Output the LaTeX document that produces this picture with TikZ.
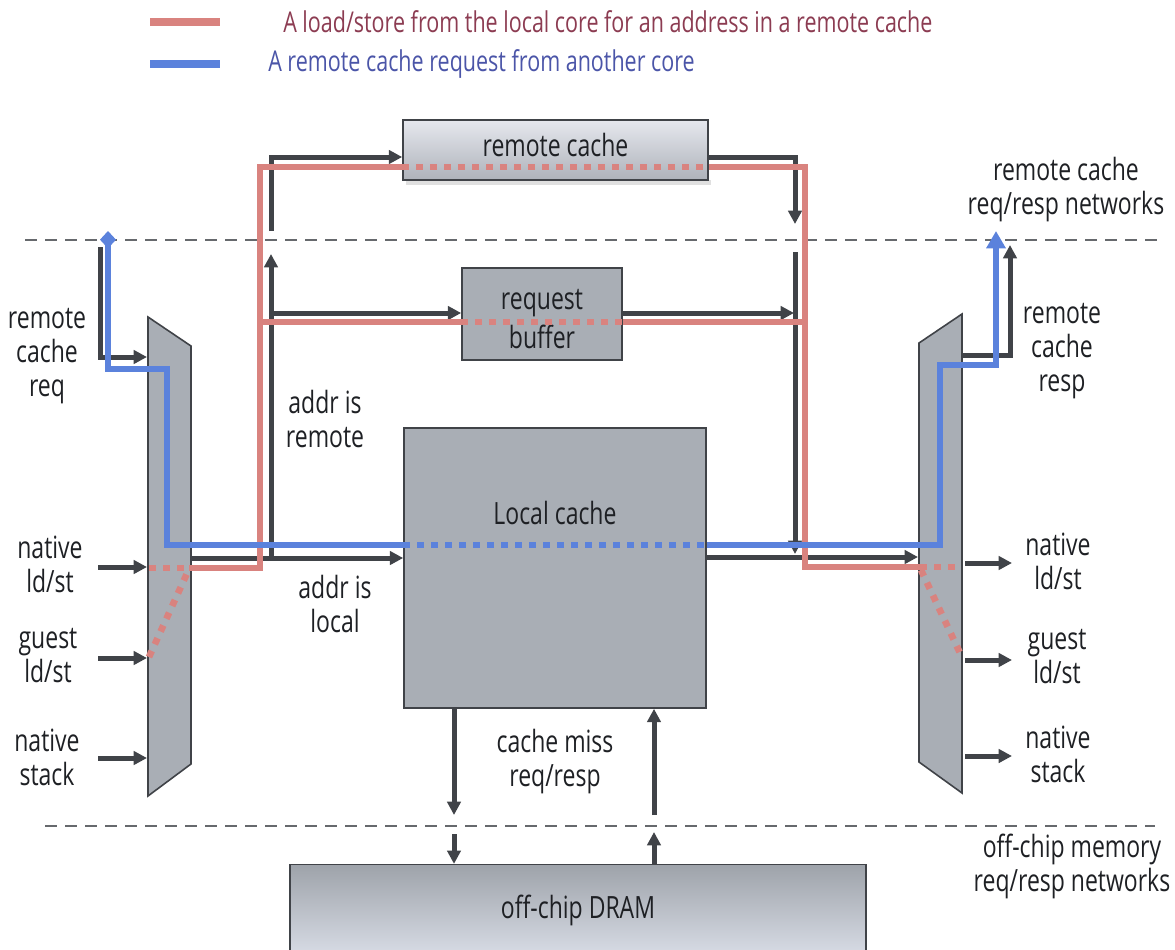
\documentclass[tikz,border=0pt]{standalone}
\usepackage{fontspec}
\setmainfont{Open Sans}[FakeStretch=0.75]
\usetikzlibrary{arrows.meta,shadings}
\definecolor{dk}{HTML}{404348}
\definecolor{boxc}{HTML}{A9AEB5}
\definecolor{redc}{HTML}{D9837F}
\definecolor{bluec}{HTML}{5B82DC}
\definecolor{legred}{HTML}{8C3C52}
\definecolor{legblue}{HTML}{4B55A8}
\definecolor{txt}{HTML}{1E2024}
\definecolor{rctop}{HTML}{E6E8EE}
\definecolor{rcbot}{HTML}{AEB2BA}
\definecolor{drtop}{HTML}{9EA3AA}
\definecolor{drbot}{HTML}{E2E6F0}
\begin{document}
\begin{tikzpicture}[x=0.75pt,y=-0.75pt,
  lbl/.style={font=\fontsize{23}{25.5}\selectfont, text=txt, align=center, inner sep=0pt},
  legtxt/.style={font=\fontsize{21.5}{24}\selectfont, inner sep=0pt, anchor=west},
  box/.style={draw=dk, line width=1.2pt, fill=boxc, inner sep=0pt},
  dkl/.style={draw=dk, line width=3.75pt},
  dka/.style={dkl, -{Triangle[length=10pt,width=10pt]}},
  redp/.style={draw=redc, line width=5pt},
  redd/.style={redp, dash pattern=on 5pt off 5.5pt},
  bluep/.style={draw=bluec, line width=5pt},
  blued/.style={bluep, dash pattern=on 5pt off 5.5pt},
  netdash/.style={draw=dk!80, line width=1.1pt, dash pattern=on 9pt off 6pt}
]
\useasboundingbox (0,0) rectangle (1175,950);

% legend
\draw[redp, line width=6pt] (150,22) coordinate (lr1) -- (220,22) coordinate (lr2);
\node[legtxt, text=legred] (legr) at (283,22) {A load/store from the local core for an address in a remote cache};
\draw[bluep, line width=6pt] (150,64) coordinate (lb1) -- (220,64) coordinate (lb2);
\node[legtxt, text=legblue] (legb) at (268,64) {A remote cache request from another core};

% network boundaries
\draw[netdash] (25,240) coordinate (n1a) -- (1160,240) coordinate (n1b);
\draw[netdash] (45,826) coordinate (n2a) -- (1155,826) coordinate (n2b);

% boxes
\fill[black!12] (406,180) rectangle (711,185);
\node[box, minimum width=228.75pt, minimum height=45pt, top color=rctop, bottom color=rcbot, draw=dk] (rc) at (555.5,150) {};
\node[lbl] (rct) at (555.5,145) {remote cache};
\node[box, minimum width=120pt, minimum height=69pt] (rb) at (542,314) {};
\node[lbl] (rbt) at (542,319) {request\\[4pt]buffer};
\node[box, minimum width=226.5pt, minimum height=210pt] (lc) at (555,568) {};
\node[lbl] (lct) at (555,513) {Local cache};
\node[box, minimum width=432pt, minimum height=80pt, top color=drtop, bottom color=drbot, draw=dk] (dram) at (578,918) {};
\node[lbl] (dramt) at (578,910) {off-chip DRAM};

% muxes
\draw[box] (148,317) coordinate (lm1) -- (191,346) coordinate (lm2) -- (191,764) coordinate (lm3) -- (148,796) coordinate (lm4) -- cycle;
\draw[box] (919,343) coordinate (rm1) -- (962,314) coordinate (rm2) -- (962,793) coordinate (rm3) -- (919,762) coordinate (rm4) -- cycle;

% labels
\node[lbl] (l1) at (47,356) {remote\\cache\\req};
\node[lbl] (l2) at (50,564) {native\\ld/st};
\node[lbl] (l3) at (48,656) {guest\\ld/st};
\node[lbl] (l4) at (47,757) {native\\stack};
\node[lbl] (r1) at (1062,351) {remote\\cache\\resp};
\node[lbl] (r2) at (1058,561) {native\\ld/st};
\node[lbl] (r3) at (1057,657) {guest\\ld/st};
\node[lbl] (r4) at (1058,754) {native\\stack};
\node[lbl] (nt) at (1066,190) {remote cache\\req/resp networks};
\node[lbl] (nb) at (1072,866) {off-chip memory\\req/resp networks};
\node[lbl] (ar) at (325,419) {addr is\\remote};
\node[lbl] (al) at (335,604) {addr is\\local};
\node[lbl] (cm) at (555,762) {cache miss\\req/resp};

% dark connectors
\draw[dka] (100,247) |- (147,357);
\draw[dka] (98,567) -- (147,567);
\draw[dka] (98,658) -- (147,658);
\draw[dka] (98,758) -- (147,758);
\draw[dka] (192,558) -- (lc.west |- 0,558);
\draw[dka] (271,558) -- (271,254);
\draw[dka] (271,231) |- (rc.west |- 0,157);
\draw[dka] (271,313) -- (rb.west |- 0,313);
\draw[dka] (rc.east |- 0,157) -| (795,224);
\draw[dka] (795,252) -- (795,554);
\draw[dka] (rb.east |- 0,313) -- (794,313);
\draw[dka] (lc.east |- 0,557) -- (918,557);
\draw[dka] (963,355) -| (1010,245);
\draw[dka] (965,563) -- (1012,563);
\draw[dka] (965,660) -- (1012,660);
\draw[dka] (965,756) -- (1012,756);
\draw[dka] (454,0 |- lc.south) -- (454,815);
\draw[dka] (454,834) -- (454,0 |- dram.north);
\draw[dka] (654,815) -- (654,0 |- lc.south);
\draw[dka] (654,0 |- dram.north) -- (654,832);

% red path: local load/store to remote cache
\draw[redd] (149,657) -- (189,569);
\draw[redd] (149,568) -- (189,568);
\draw[redp] (189,568) -- (260,568) -- (260,167) -- (rc.west |- 0,167);
\draw[redd] (rc.west |- 0,167) -- (rc.east |- 0,167);
\draw[redp] (rc.east |- 0,167) -- (805,167) -- (805,567) -- (920,567);
\draw[redp] (260,322) -- (rb.west |- 0,322);
\draw[redd] (rb.west |- 0,322) -- (rb.east |- 0,322);
\draw[redp] (rb.east |- 0,322) -- (805,322);
\draw[redd] (920,567) -- (960,567);
\draw[redd] (921,570) -- (960,653);

% blue path: remote request from another core
\draw[bluep, {Diamond[length=13pt,width=12pt]}-] (108,231) -- (108,369) -- (167,369) -- (167,545) -- (lc.west |- 0,545);
\draw[blued] (lc.west |- 0,545) -- (lc.east |- 0,545);
\draw[bluep, -{Triangle[length=13pt,width=14pt]}] (lc.east |- 0,545) -- (940,545) -- (940,365) -- (996,365) -- (996,231);
\end{tikzpicture}
\end{document}
